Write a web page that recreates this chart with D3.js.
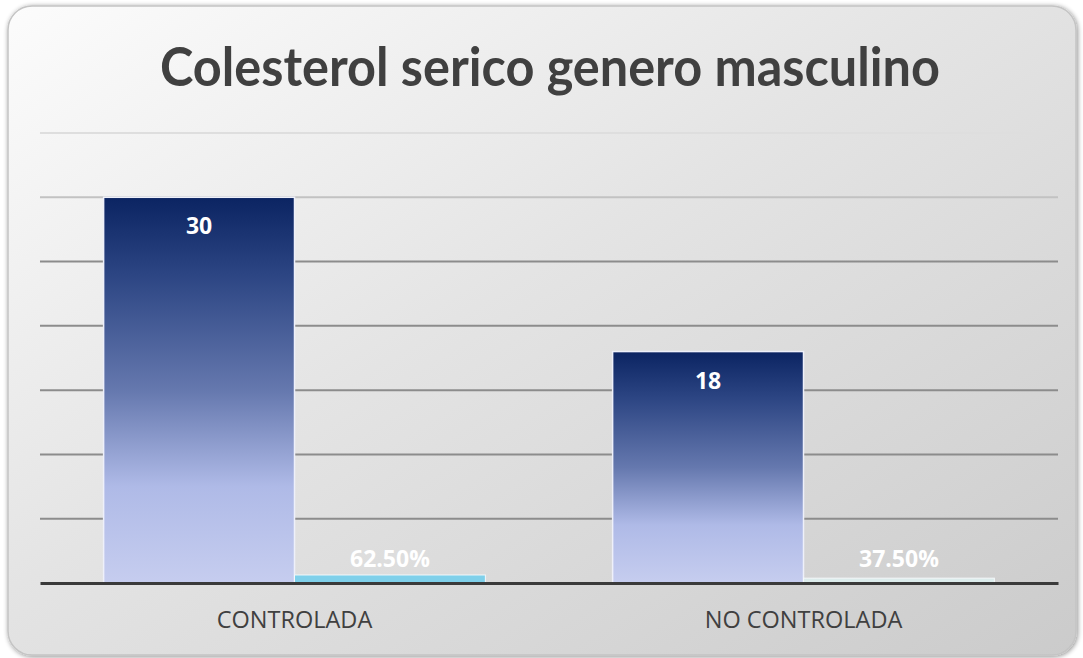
<!DOCTYPE html>
<html><head><meta charset="utf-8">
<script src="https://cdn.jsdelivr.net/npm/d3@7"></script>
<style>html,body{margin:0;padding:0;background:#fff;}svg{display:block;}</style>
</head><body>
<script>
const title = "Colesterol serico genero masculino";
const categories = ["CONTROLADA", "NO CONTROLADA"];
const seriesNames = ["Cantidad", "Porcentaje"];
const counts = [30, 18];
const percents = [0.625, 0.375];
const percentLabels = ["62.50%", "37.50%"];
const yTicks = [5, 10, 15, 20, 25, 30, 35];

const W = 1083, H = 658;
const svg = d3.select("body").append("svg").attr("width", W).attr("height", H);
const defs = svg.append("defs");

const bg = defs.append("linearGradient").attr("id", "bg").attr("x1", 0).attr("y1", 0).attr("x2", 1).attr("y2", 1);
bg.append("stop").attr("offset", 0).attr("stop-color", "#fcfcfc");
bg.append("stop").attr("offset", 0.45).attr("stop-color", "#e4e4e4");
bg.append("stop").attr("offset", 1).attr("stop-color", "#cbcbcb");

const bar = defs.append("linearGradient").attr("id", "bar").attr("x1", 0).attr("y1", 0).attr("x2", 0).attr("y2", 1);
[[0, "#0b2462"], [0.2, "#2c4583"], [0.5, "#6578ae"], [0.75, "#afbae7"], [1, "#c6cdef"]]
  .forEach(([o, c]) => bar.append("stop").attr("offset", o).attr("stop-color", c));

const sh = defs.append("filter").attr("id", "sh").attr("x", -0.05).attr("y", -0.05).attr("width", 1.1).attr("height", 1.1);
sh.append("feGaussianBlur").attr("in", "SourceAlpha").attr("stdDeviation", 2.5);
sh.append("feOffset").attr("dx", 1).attr("dy", 1).attr("result", "b");
sh.append("feComponentTransfer").append("feFuncA").attr("type", "linear").attr("slope", 0.45);
const m = sh.append("feMerge"); m.append("feMergeNode"); m.append("feMergeNode").attr("in", "SourceGraphic");

svg.append("rect").attr("x", 8).attr("y", 6).attr("width", 1068).attr("height", 649)
  .attr("rx", 24).attr("fill", "url(#bg)").attr("stroke", "#c4c4c4").attr("stroke-width", 1.5)
  .attr("filter", "url(#sh)");

svg.append("text").attr("x", 550).attr("y", 86).attr("text-anchor", "middle")
  .attr("font-family", "Lato, 'Open Sans', sans-serif").attr("font-weight", "bold")
  .attr("font-size", 53).attr("fill", "#404040")
  .attr("textLength", 780).attr("lengthAdjust", "spacingAndGlyphs").text(title);

const x = d3.scaleBand().domain(categories).range([40, 1058]).paddingInner(0.25).paddingOuter(0.125);
const xs = d3.scaleBand().domain(seriesNames).range([0, x.bandwidth()]);
const y = d3.scaleLinear().domain([0, 35]).range([583, 133]);

const gridColor = d3.scaleLinear().domain([35, 30, 25]).range(["#dedede", "#c2c2c2", "#8c8c8c"]).clamp(true);
svg.append("g").selectAll("line").data(yTicks).join("line")
  .attr("x1", 40).attr("x2", 1058).attr("y1", d => y(d)).attr("y2", d => y(d))
  .attr("stroke", d => gridColor(d)).attr("stroke-width", 2);

const g = svg.append("g");
g.selectAll("rect.c").data(categories).join("rect").attr("class", "c")
  .attr("x", d => x(d) + xs(seriesNames[0]))
  .attr("y", (d, i) => y(counts[i]))
  .attr("width", xs.bandwidth())
  .attr("height", (d, i) => y(0) - y(counts[i]))
  .attr("fill", "url(#bar)").attr("stroke", "#eef0fa").attr("stroke-width", 1.5);
const pColors = ["#7fd0ea", "#dcecec"];
g.selectAll("rect.p").data(categories).join("rect").attr("class", "p")
  .attr("x", d => x(d) + xs(seriesNames[1]))
  .attr("y", (d, i) => y(percents[i]))
  .attr("width", xs.bandwidth())
  .attr("height", (d, i) => y(0) - y(percents[i]))
  .attr("fill", (d, i) => pColors[i]).attr("stroke", "#f4f8fa").attr("stroke-width", 1);

const ax = svg.append("g").attr("transform", `translate(0,${y(0)})`)
  .call(d3.axisBottom(x).tickSize(0).tickPadding(28));
ax.select(".domain").attr("stroke", "#3a3a3a").attr("stroke-width", 3);
ax.selectAll("text").attr("font-family", "'Open Sans', 'Noto Sans', sans-serif")
  .attr("font-size", 23.5).attr("fill", "#404040");

g.selectAll("text.c").data(categories).join("text").attr("class", "c")
  .attr("x", d => x(d) + xs(seriesNames[0]) + xs.bandwidth() / 2)
  .attr("y", (d, i) => y(counts[i]) + 37).attr("text-anchor", "middle")
  .attr("font-family", "'Open Sans', 'Noto Sans', sans-serif").attr("font-weight", "bold")
  .attr("font-size", 23).attr("fill", "#ffffff").text((d, i) => counts[i]);
g.selectAll("text.p").data(categories).join("text").attr("class", "p")
  .attr("x", d => x(d) + xs(seriesNames[1]) + xs.bandwidth() / 2)
  .attr("y", (d, i) => y(0) - 16).attr("text-anchor", "middle")
  .attr("font-family", "'Open Sans', 'Noto Sans', sans-serif").attr("font-weight", "bold")
  .attr("font-size", 23).attr("fill", "#ffffff").text((d, i) => percentLabels[i]);
</script>
</body></html>
